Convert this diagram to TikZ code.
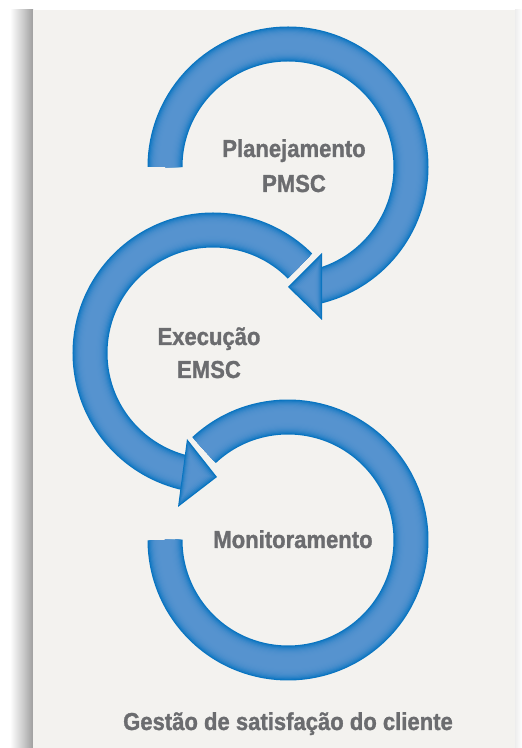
\documentclass[tikz,border=0pt]{standalone}
\usepackage{fontspec}
\setmainfont{Liberation Sans}[FakeStretch=0.9, BoldFeatures={FakeBold=1.2}]
\usetikzlibrary{calc}
\definecolor{ringedge}{RGB}{8,116,192}
\definecolor{ringmid}{RGB}{86,147,207}
\definecolor{panel}{RGB}{243,242,239}
\definecolor{txt}{RGB}{107,108,111}
\tikzset{
  lbl/.style={font=\fontsize{24.5}{30}\selectfont\bfseries, text=txt, inner sep=0pt, anchor=base},
}
\newcommand\ringarc[3]{%
  \foreach \i in {0,...,15}{%
    \pgfmathsetmacro\ww{35*(16-\i)/16}%
    \pgfmathsetmacro\pp{100*(1-(max(0,1-\i/15))^4)}%
    \draw[line width=\ww pt, color=ringmid!\pp!ringedge] (#1) ++(#2:123) arc[start angle=#2, end angle=#3, radius=123];
  }}
\newcommand\arrhead[1]{%
  \coordinate (M#1) at ($(A#1)!0.5!(B#1)$);
  \coordinate (G#1) at ($(M#1)!0.3333!(T#1)$);
  \foreach \k in {0,...,11}{%
    \pgfmathsetmacro\sc{1-\k/12}%
    \pgfmathsetmacro\pp{100*(1-(max(0,1-\k/11))^4)}%
    \fill[ringmid!\pp!ringedge] ($(G#1)!\sc!(A#1)$) -- ($(G#1)!\sc!(T#1)$) -- ($(G#1)!\sc!(B#1)$) -- cycle;
  }}
\begin{document}
\begin{tikzpicture}[x=1pt,y=1pt]
\useasboundingbox (0,0) rectangle (522,748);
\fill[white] (0,0) rectangle (522,748);
% shadows
\shade[left color=white, right color=black!22] (10,0) rectangle (24,738);
\shade[left color=black!22, right color=black!38] (24,0) rectangle (33,738);
\shade[left color=black!7, right color=white] (515,0) rectangle (522,738);
% panel
\fill[panel] (33,0) rectangle (515,738);
% centres
\coordinate (C1) at (288,581);
\coordinate (C2) at (213,395);
\coordinate (C3) at (288,208);
% arrowhead vertices
\coordinate (A1) at (322,495);
\coordinate (B1) at (322,428);
\coordinate (T1) at (288,461);
\coordinate (A2) at (187,309);
\coordinate (B2) at (178,241);
\coordinate (T2) at (217,271);
% rings
\ringarc{C1}{180}{-78}
\arrhead{1}
\ringarc{C2}{45}{260}
\arrhead{2}
\ringarc{C3}{133}{-180}
% labels
\node[lbl] (plan) at (294,591) {Planejamento};
\node[lbl] (pmsc) at (294,556) {PMSC};
\node[lbl] (exec) at (209,403) {Execução};
\node[lbl] (emsc) at (209,370) {EMSC};
\node[lbl] (mon) at (293,200) {Monitoramento};
\node[lbl] (title) at (288,18) {Gestão de satisfação do cliente};
\end{tikzpicture}
\end{document}
